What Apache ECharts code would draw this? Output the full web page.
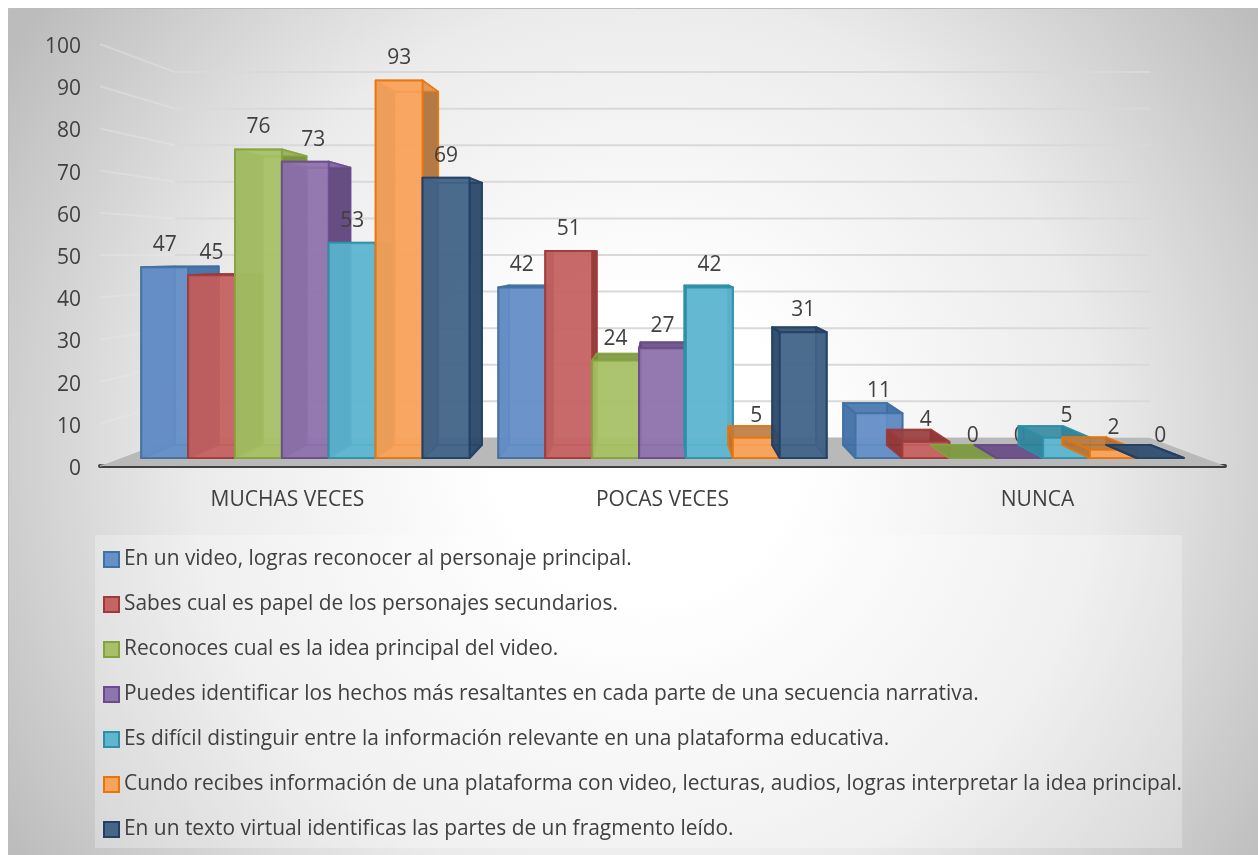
<!DOCTYPE html>
<html>
<head>
<meta charset="utf-8">
<style>
  html, body { margin: 0; padding: 0; background: #fff; }
  #chart { width: 1258px; height: 855px; }
</style>
<script src="https://cdn.jsdelivr.net/npm/echarts@6/dist/echarts.min.js"></script>
</head>
<body>
<div id="chart"></div>
<script>
const categories = ['MUCHAS VECES', 'POCAS VECES', 'NUNCA']
const seriesNames = [
  'En un video, logras reconocer al personaje principal.',
  'Sabes cual es papel de los personajes secundarios.',
  'Reconoces cual es la idea principal del video.',
  'Puedes identificar los hechos más resaltantes en cada parte de una secuencia narrativa.',
  'Es difícil distinguir entre la información relevante en una plataforma educativa.',
  'Cundo recibes información de una plataforma con video, lecturas, audios, logras interpretar la idea principal.',
  'En un texto virtual identificas las partes de un fragmento leído.',
]
const personajePrincipal = [47, 42, 11]
const personajesSecundarios = [45, 51, 4]
const ideaPrincipal = [76, 24, 0]
const hechosResaltantes = [73, 27, 0]
const informacionRelevante = [53, 42, 5]
const plataformaVideo = [93, 5, 2]
const textoVirtual = [69, 31, 0]
const seriesValues = [
  personajePrincipal, personajesSecundarios, ideaPrincipal, hechosResaltantes,
  informacionRelevante, plataformaVideo, textoVirtual,
]
const tickValues = [0, 10, 20, 30, 40, 50, 60, 70, 80, 90, 100]

const fills = ['#6690c8', '#c66464', '#a8c168', '#9074ae', '#5fb6d0', '#f8a35c', '#456689']
const borders = ['#41719f', '#a03a3a', '#84a33c', '#6a4c8c', '#2f8fa8', '#e8750c', '#233f63']
const sides = ['#3f6da6', '#8c3232', '#6f8a35', '#5c4278', '#2c7f96', '#a8703c', '#2a4768']

const textColor = '#404040'
const fontFamily = '"Open Sans", "Noto Sans", sans-serif'

// depth scale of the perspective: 1 is the axis plane, wall is the far end
const wallDepth = 0.867
const barFront = 0.962
const barBack = 0.9
const barShare = 0.13 // bar width as part of one category band
const groupSpread = 0.99 // groups sit a bit closer than the band centres

// projects a point of the axis plane towards the vanishing point
const projector = (params) => {
  const box = params.coordSys
  const vx = box.x + box.width / 2
  const vy = box.y + box.height * 0.5
  return (p, s) => [vx + (p[0] - vx) * s, vy + (p[1] - vy) * s]
}

const renderWall = (params, api) => {
  const project = projector(params)
  const box = params.coordSys
  const y = api.coord([0, api.value(0)])[1]
  const left = [box.x, y]
  const right = [box.x + box.width, y]
  const corner = project(left, wallDepth)
  return {
    type: 'group',
    silent: true,
    children: [
      {
        type: 'line',
        shape: { x1: left[0], y1: left[1], x2: corner[0], y2: corner[1] },
        style: { stroke: 'rgba(232,232,232,0.4)', lineWidth: 2 },
      },
      {
        type: 'line',
        shape: { x1: corner[0], y1: corner[1], x2: project(right, wallDepth)[0], y2: corner[1] },
        style: { stroke: '#d9d9d9', lineWidth: 2 },
      },
    ],
  }
}

const renderFloor = (params) => {
  const project = projector(params)
  const box = params.coordSys
  const base = box.y + box.height
  const left = [box.x, base]
  const right = [box.x + box.width, base]
  return {
    type: 'polygon',
    shape: { points: [left, right, project(right, wallDepth), project(left, wallDepth)] },
    style: { fill: '#b9b9b9' },
    silent: true,
  }
}

const renderBar = (index) => (params, api) => {
  const project = projector(params)
  const box = params.coordSys
  const mid = box.x + box.width / 2
  const eye = box.y + box.height * 0.5
  const cat = api.value(0)
  const val = api.value(1)
  const band = api.size([1, 0])[0]
  const center = mid + (api.coord([cat, 0])[0] - mid) * groupSpread
  const w = band * barShare
  const x0 = center + (index - seriesValues.length / 2) * w
  const x1 = x0 + w
  const yb = api.coord([cat, 0])[1]
  const yt = api.coord([cat, val])[1]

  const pt = (x, y, s) => project([x, y], s)
  const face = (points, fill, stroke, alpha) => ({
    type: 'polygon',
    shape: { points },
    style: { fill, stroke, lineWidth: 2, opacity: alpha, lineJoin: 'round' },
  })

  const back = [pt(x0, yb, barBack), pt(x1, yb, barBack), pt(x1, yt, barBack), pt(x0, yt, barBack)]
  const front = [pt(x0, yb, barFront), pt(x1, yb, barFront), pt(x1, yt, barFront), pt(x0, yt, barFront)]
  const sideOf = (x) => [pt(x, yb, barFront), pt(x, yb, barBack), pt(x, yt, barBack), pt(x, yt, barFront)]
  const top = [pt(x0, yt, barFront), pt(x1, yt, barFront), pt(x1, yt, barBack), pt(x0, yt, barBack)]
  const floor = [pt(x0, yb, barFront), pt(x1, yb, barFront), pt(x1, yb, barBack), pt(x0, yb, barBack)]

  const fill = fills[index]
  const line = borders[index]
  const side = sides[index]
  const frontMid = (front[0][0] + front[1][0]) / 2
  // the 73 label sits a little right of its bar in the original
  const nudge = val === 73 ? 8 : 0

  const children = [
    face(back, fill, line, 0.75),
    face(floor, fill, line, 0.85),
    face(sideOf(x0), side, line, 0.85),
    face(sideOf(x1), side, line, 0.85),
    // tops above eye level are seen through the front, lower ones from above
    face(top, yt < eye ? fill : side, line, 0.7),
  ]
  if (val > 0) children.push(face(front, fill, line, 0.86))
  children.push({
    type: 'text',
    style: {
      text: String(val),
      x: frontMid + nudge,
      y: front[2][1] - 22,
      align: 'center',
      verticalAlign: 'middle',
      fill: textColor,
      font: '21px ' + fontFamily,
    },
    z2: 100,
  })
  return { type: 'group', children }
}

const barSeries = seriesNames.map((name, i) => ({
  name,
  type: 'custom',
  coordinateSystem: 'cartesian2d',
  renderItem: renderBar(i),
  data: seriesValues[i].map((v, c) => [c, v]),
  encode: { x: 0, y: 1 },
  itemStyle: { color: fills[i], borderColor: borders[i], borderWidth: 2 },
  z: 10 + i,
  animation: false,
  clip: false,
}))

const chart = echarts.init(document.getElementById('chart'), null, { renderer: 'canvas' })
chart.setOption({
  animation: false,
  graphic: [{
    type: 'rect',
    z: -10,
    silent: true,
    shape: { x: 8.5, y: 8.5, width: 1250, height: 847 },
    style: {
      stroke: '#bdbdbd',
      lineWidth: 1,
      fill: new echarts.graphic.RadialGradient(0.51, 0.52, 0.885, [
        { offset: 0, color: '#ffffff' },
        { offset: 0.2, color: '#ffffff' },
        { offset: 0.6, color: '#ebebeb' },
        { offset: 1, color: '#bcbcbc' },
      ]),
    },
  }],
  grid: { left: 100, top: 44, width: 1125, height: 422 },
  xAxis: {
    type: 'category',
    data: categories,
    axisTick: { show: false },
    axisLine: { lineStyle: { color: '#404040', width: 4, cap: 'round' } },
    axisLabel: { color: textColor, fontSize: 21, fontFamily, margin: 24 },
  },
  yAxis: {
    type: 'value',
    min: 0,
    max: 100,
    interval: 10,
    axisLine: { show: false },
    axisTick: { show: false },
    splitLine: { show: false },
    axisLabel: {
      margin: 19,
      formatter: '{tick|{value}}',
      rich: {
        tick: { color: textColor, fontSize: 21, fontFamily, padding: [6, 0, 0, 0] },
      },
    },
  },
  legend: {
    orient: 'vertical',
    left: 95,
    top: 535,
    padding: [14, 0, 8, 8],
    itemGap: 24,
    itemWidth: 15,
    itemHeight: 15,
    icon: 'rect',
    backgroundColor: 'rgba(255,255,255,0.28)',
    textStyle: { color: textColor, fontSize: 20.9, fontFamily },
    selectedMode: false,
    data: seriesNames,
  },
  series: [
    {
      name: 'pared',
      type: 'custom',
      renderItem: renderWall,
      data: tickValues.map((v) => [v]),
      encode: { y: 0 },
      z: 1,
      silent: true,
    },
    {
      name: 'piso',
      type: 'custom',
      renderItem: renderFloor,
      data: [[0]],
      z: 2,
      silent: true,
    },
    ...barSeries,
  ],
})
window.addEventListener('resize', () => chart.resize())
</script>
</body>
</html>
